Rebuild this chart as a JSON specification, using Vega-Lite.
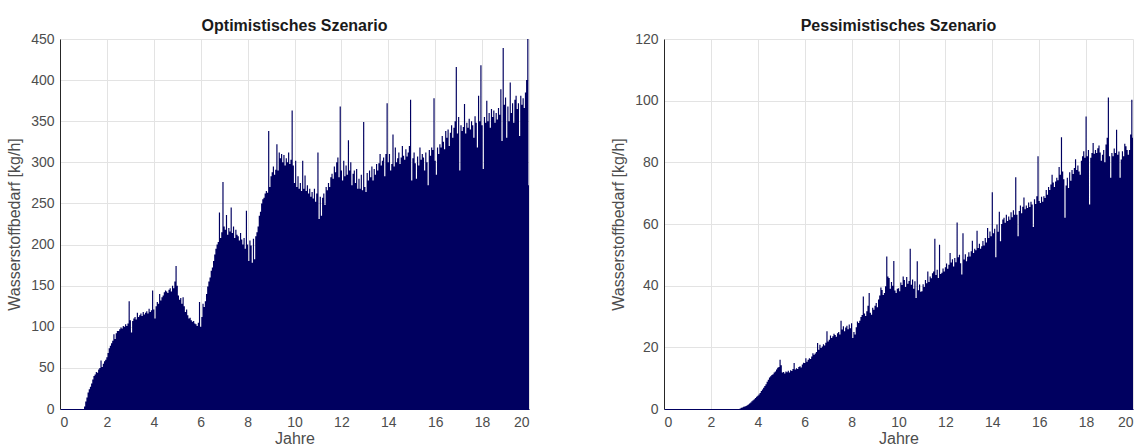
{
  "$schema": "https://vega.github.io/schema/vega-lite/v6.json",
  "background": "white",
  "padding": {"left": 6, "top": 18, "right": 5, "bottom": 0},
  "config": {
    "font": "Liberation Sans",
    "view": {"stroke": null},
    "axis": {
      "labelFont": "Liberation Sans", "labelFontSize": 14, "labelColor": "#4d4d4d",
      "titleFont": "Liberation Sans", "titleFontSize": 16, "titleFontWeight": "normal", "titleColor": "#4d4d4d",
      "gridColor": "#e3e3e3", "gridWidth": 1, "domainColor": "#262626", "tickSize": 0, "labelPadding": 6, "titlePadding": 8
    },
    "axisX": {"domainColor": "#000060", "titlePadding": 1},
    "title": {"font": "Liberation Sans", "fontSize": 16, "fontWeight": "bold", "color": "#1a1a1a", "offset": -2},
    "concat": {"spacing": 80}
  },
  "datasets": {
    "opt": [
      {"x":0,"y":0},{"x":1.00,"y":0},{"x":1.05,"y":3},{"x":1.10,"y":9},{"x":1.15,"y":14},{"x":1.20,"y":20},{"x":1.25,"y":24},{"x":1.30,"y":27},{"x":1.35,"y":31},{"x":1.40,"y":36},{"x":1.45,"y":40},{"x":1.50,"y":42},{"x":1.55,"y":45},{"x":1.60,"y":44},{"x":1.65,"y":48},{"x":1.70,"y":50},{"x":1.75,"y":59},{"x":1.80,"y":51},{"x":1.85,"y":55},{"x":1.90,"y":58},{"x":1.95,"y":60},
      {"x":2.00,"y":63},{"x":2.05,"y":68},{"x":2.10,"y":74},{"x":2.15,"y":77},{"x":2.20,"y":80},{"x":2.25,"y":83},{"x":2.30,"y":91},{"x":2.35,"y":85},{"x":2.40,"y":92},{"x":2.45,"y":95},{"x":2.50,"y":95},{"x":2.55,"y":97},{"x":2.60,"y":99},{"x":2.65,"y":98},{"x":2.70,"y":101},{"x":2.75,"y":100},{"x":2.80,"y":103},{"x":2.85,"y":101},{"x":2.90,"y":104},{"x":2.95,"y":131},
      {"x":3.00,"y":108},{"x":3.05,"y":93},{"x":3.10,"y":107},{"x":3.15,"y":110},{"x":3.20,"y":112},{"x":3.25,"y":109},{"x":3.30,"y":117},{"x":3.35,"y":112},{"x":3.40,"y":114},{"x":3.45,"y":116},{"x":3.50,"y":113},{"x":3.55,"y":118},{"x":3.60,"y":115},{"x":3.65,"y":117},{"x":3.70,"y":119},{"x":3.75,"y":116},{"x":3.80,"y":122},{"x":3.85,"y":118},{"x":3.90,"y":120},{"x":3.95,"y":144},
      {"x":4.00,"y":121},{"x":4.05,"y":110},{"x":4.10,"y":125},{"x":4.15,"y":130},{"x":4.20,"y":128},{"x":4.25,"y":140},{"x":4.30,"y":132},{"x":4.35,"y":136},{"x":4.40,"y":138},{"x":4.45,"y":142},{"x":4.50,"y":144},{"x":4.55,"y":143},{"x":4.60,"y":141},{"x":4.65,"y":145},{"x":4.70,"y":147},{"x":4.75,"y":143},{"x":4.80,"y":150},{"x":4.85,"y":147},{"x":4.90,"y":155},{"x":4.95,"y":174},
      {"x":5.00,"y":150},{"x":5.05,"y":138},{"x":5.10,"y":133},{"x":5.15,"y":135},{"x":5.20,"y":128},{"x":5.25,"y":136},{"x":5.30,"y":125},{"x":5.35,"y":118},{"x":5.40,"y":121},{"x":5.45,"y":114},{"x":5.50,"y":110},{"x":5.55,"y":111},{"x":5.60,"y":108},{"x":5.65,"y":106},{"x":5.70,"y":107},{"x":5.75,"y":104},{"x":5.80,"y":103},{"x":5.85,"y":101},{"x":5.90,"y":105},{"x":5.95,"y":130},
      {"x":6.00,"y":100},{"x":6.05,"y":112},{"x":6.10,"y":128},{"x":6.15,"y":124},{"x":6.20,"y":131},{"x":6.25,"y":140},{"x":6.30,"y":149},{"x":6.35,"y":155},{"x":6.40,"y":160},{"x":6.45,"y":168},{"x":6.50,"y":172},{"x":6.55,"y":180},{"x":6.60,"y":188},{"x":6.65,"y":195},{"x":6.70,"y":200},{"x":6.75,"y":203},{"x":6.80,"y":239},{"x":6.85,"y":208},{"x":6.90,"y":215},{"x":6.95,"y":276},
      {"x":7.00,"y":222},{"x":7.05,"y":218},{"x":7.10,"y":236},{"x":7.15,"y":212},{"x":7.20,"y":220},{"x":7.25,"y":216},{"x":7.30,"y":245},{"x":7.35,"y":214},{"x":7.40,"y":222},{"x":7.45,"y":208},{"x":7.50,"y":218},{"x":7.55,"y":212},{"x":7.60,"y":210},{"x":7.65,"y":205},{"x":7.70,"y":214},{"x":7.75,"y":206},{"x":7.80,"y":200},{"x":7.85,"y":208},{"x":7.90,"y":195},{"x":7.95,"y":241},
      {"x":8.00,"y":200},{"x":8.05,"y":180},{"x":8.10,"y":205},{"x":8.15,"y":199},{"x":8.20,"y":178},{"x":8.25,"y":207},{"x":8.30,"y":182},{"x":8.35,"y":210},{"x":8.40,"y":215},{"x":8.45,"y":222},{"x":8.50,"y":235},{"x":8.55,"y":240},{"x":8.60,"y":250},{"x":8.65,"y":255},{"x":8.70,"y":257},{"x":8.75,"y":262},{"x":8.80,"y":265},{"x":8.85,"y":263},{"x":8.90,"y":338},{"x":8.95,"y":270},
      {"x":9.00,"y":283},{"x":9.05,"y":288},{"x":9.10,"y":295},{"x":9.15,"y":285},{"x":9.20,"y":291},{"x":9.25,"y":322},{"x":9.30,"y":290},{"x":9.35,"y":312},{"x":9.40,"y":305},{"x":9.45,"y":310},{"x":9.50,"y":300},{"x":9.55,"y":309},{"x":9.60,"y":296},{"x":9.65,"y":305},{"x":9.70,"y":300},{"x":9.75,"y":312},{"x":9.80,"y":298},{"x":9.85,"y":303},{"x":9.90,"y":363},{"x":9.95,"y":296},
      {"x":10.00,"y":275},{"x":10.05,"y":302},{"x":10.10,"y":270},{"x":10.15,"y":283},{"x":10.20,"y":268},{"x":10.25,"y":275},{"x":10.30,"y":265},{"x":10.35,"y":302},{"x":10.40,"y":268},{"x":10.45,"y":284},{"x":10.50,"y":265},{"x":10.55,"y":272},{"x":10.60,"y":262},{"x":10.65,"y":268},{"x":10.70,"y":258},{"x":10.75,"y":264},{"x":10.80,"y":256},{"x":10.85,"y":268},{"x":10.90,"y":252},{"x":10.95,"y":262},
      {"x":11.00,"y":312},{"x":11.05,"y":231},{"x":11.10,"y":258},{"x":11.15,"y":235},{"x":11.20,"y":257},{"x":11.25,"y":262},{"x":11.30,"y":248},{"x":11.35,"y":270},{"x":11.40,"y":266},{"x":11.45,"y":275},{"x":11.50,"y":270},{"x":11.55,"y":282},{"x":11.60,"y":286},{"x":11.65,"y":280},{"x":11.70,"y":295},{"x":11.75,"y":288},{"x":11.80,"y":300},{"x":11.85,"y":306},{"x":11.90,"y":282},{"x":11.95,"y":368},
      {"x":12.00,"y":290},{"x":12.05,"y":278},{"x":12.10,"y":302},{"x":12.15,"y":283},{"x":12.20,"y":296},{"x":12.25,"y":285},{"x":12.30,"y":327},{"x":12.35,"y":290},{"x":12.40,"y":300},{"x":12.45,"y":272},{"x":12.50,"y":286},{"x":12.55,"y":290},{"x":12.60,"y":275},{"x":12.65,"y":292},{"x":12.70,"y":268},{"x":12.75,"y":280},{"x":12.80,"y":268},{"x":12.85,"y":285},{"x":12.90,"y":266},{"x":12.95,"y":349},
      {"x":13.00,"y":270},{"x":13.05,"y":264},{"x":13.10,"y":287},{"x":13.15,"y":278},{"x":13.20,"y":290},{"x":13.25,"y":282},{"x":13.30,"y":295},{"x":13.35,"y":278},{"x":13.40,"y":292},{"x":13.45,"y":285},{"x":13.50,"y":298},{"x":13.55,"y":290},{"x":13.60,"y":299},{"x":13.65,"y":310},{"x":13.70,"y":296},{"x":13.75,"y":302},{"x":13.80,"y":306},{"x":13.85,"y":283},{"x":13.90,"y":310},{"x":13.95,"y":372},
      {"x":14.00,"y":300},{"x":14.05,"y":310},{"x":14.10,"y":290},{"x":14.15,"y":298},{"x":14.20,"y":334},{"x":14.25,"y":295},{"x":14.30,"y":318},{"x":14.35,"y":300},{"x":14.40,"y":305},{"x":14.45,"y":312},{"x":14.50,"y":298},{"x":14.55,"y":306},{"x":14.60,"y":320},{"x":14.65,"y":308},{"x":14.70,"y":303},{"x":14.75,"y":316},{"x":14.80,"y":307},{"x":14.85,"y":312},{"x":14.90,"y":320},{"x":14.95,"y":376},
      {"x":15.00,"y":278},{"x":15.05,"y":305},{"x":15.10,"y":312},{"x":15.15,"y":299},{"x":15.20,"y":280},{"x":15.25,"y":307},{"x":15.30,"y":296},{"x":15.35,"y":318},{"x":15.40,"y":303},{"x":15.45,"y":310},{"x":15.50,"y":306},{"x":15.55,"y":290},{"x":15.60,"y":312},{"x":15.65,"y":300},{"x":15.70,"y":272},{"x":15.75,"y":315},{"x":15.80,"y":308},{"x":15.85,"y":318},{"x":15.90,"y":315},{"x":15.95,"y":378},
      {"x":16.00,"y":302},{"x":16.05,"y":285},{"x":16.10,"y":318},{"x":16.15,"y":310},{"x":16.20,"y":322},{"x":16.25,"y":318},{"x":16.30,"y":332},{"x":16.35,"y":325},{"x":16.40,"y":316},{"x":16.45,"y":338},{"x":16.50,"y":330},{"x":16.55,"y":340},{"x":16.60,"y":320},{"x":16.65,"y":336},{"x":16.70,"y":345},{"x":16.75,"y":330},{"x":16.80,"y":342},{"x":16.85,"y":350},{"x":16.90,"y":416},{"x":16.95,"y":335},
      {"x":17.00,"y":355},{"x":17.05,"y":290},{"x":17.10,"y":345},{"x":17.15,"y":338},{"x":17.20,"y":343},{"x":17.25,"y":371},{"x":17.30,"y":335},{"x":17.35,"y":348},{"x":17.40,"y":342},{"x":17.45,"y":353},{"x":17.50,"y":340},{"x":17.55,"y":350},{"x":17.60,"y":345},{"x":17.65,"y":330},{"x":17.70,"y":356},{"x":17.75,"y":348},{"x":17.80,"y":318},{"x":17.85,"y":381},{"x":17.90,"y":350},{"x":17.95,"y":418},
      {"x":18.00,"y":345},{"x":18.05,"y":292},{"x":18.10,"y":355},{"x":18.15,"y":348},{"x":18.20,"y":375},{"x":18.25,"y":350},{"x":18.30,"y":360},{"x":18.35,"y":342},{"x":18.40,"y":365},{"x":18.45,"y":355},{"x":18.50,"y":363},{"x":18.55,"y":348},{"x":18.60,"y":360},{"x":18.65,"y":352},{"x":18.70,"y":366},{"x":18.75,"y":358},{"x":18.80,"y":389},{"x":18.85,"y":326},{"x":18.90,"y":439},{"x":18.95,"y":370},
      {"x":19.00,"y":379},{"x":19.05,"y":330},{"x":19.10,"y":368},{"x":19.15,"y":350},{"x":19.20,"y":397},{"x":19.25,"y":360},{"x":19.30,"y":372},{"x":19.35,"y":348},{"x":19.40,"y":376},{"x":19.45,"y":381},{"x":19.50,"y":365},{"x":19.55,"y":372},{"x":19.60,"y":332},{"x":19.65,"y":381},{"x":19.70,"y":370},{"x":19.75,"y":378},{"x":19.80,"y":366},{"x":19.85,"y":385},{"x":19.90,"y":400},{"x":19.95,"y":450},
      {"x":20.00,"y":272}
    ],
    "pes": [
      {"x":0,"y":0},{"x":3.00,"y":0},{"x":3.05,"y":0},{"x":3.10,"y":0},{"x":3.15,"y":0},{"x":3.20,"y":0},{"x":3.25,"y":0.2},{"x":3.30,"y":0.4},{"x":3.35,"y":0.5},{"x":3.40,"y":0.7},{"x":3.45,"y":0.8},{"x":3.50,"y":1.0},{"x":3.55,"y":1.2},{"x":3.60,"y":1.5},{"x":3.65,"y":1.8},{"x":3.70,"y":2.1},{"x":3.75,"y":2.5},{"x":3.80,"y":2.8},{"x":3.85,"y":3.2},{"x":3.90,"y":3.6},{"x":3.95,"y":4.0},
      {"x":4.00,"y":4.3},{"x":4.05,"y":4.7},{"x":4.10,"y":5.2},{"x":4.15,"y":5.8},{"x":4.20,"y":6.3},{"x":4.25,"y":6.9},{"x":4.30,"y":7.5},{"x":4.35,"y":8.0},{"x":4.40,"y":8.8},{"x":4.45,"y":9.5},{"x":4.50,"y":10.2},{"x":4.55,"y":10.6},{"x":4.60,"y":11.0},{"x":4.65,"y":11.3},{"x":4.70,"y":11.8},{"x":4.75,"y":12.2},{"x":4.80,"y":12.8},{"x":4.85,"y":13.4},{"x":4.90,"y":13.6},{"x":4.95,"y":16.0},
      {"x":5.00,"y":14.2},{"x":5.05,"y":11.8},{"x":5.10,"y":12.0},{"x":5.15,"y":11.5},{"x":5.20,"y":12.2},{"x":5.25,"y":11.9},{"x":5.30,"y":12.4},{"x":5.35,"y":11.8},{"x":5.40,"y":12.6},{"x":5.45,"y":12.3},{"x":5.50,"y":13.0},{"x":5.55,"y":14.9},{"x":5.60,"y":12.8},{"x":5.65,"y":13.2},{"x":5.70,"y":13.0},{"x":5.75,"y":13.6},{"x":5.80,"y":13.9},{"x":5.85,"y":13.5},{"x":5.90,"y":14.4},{"x":5.95,"y":15.0},
      {"x":6.00,"y":14.9},{"x":6.05,"y":16.5},{"x":6.10,"y":15.3},{"x":6.15,"y":16.0},{"x":6.20,"y":16.5},{"x":6.25,"y":16.2},{"x":6.30,"y":17.0},{"x":6.35,"y":18.1},{"x":6.40,"y":17.6},{"x":6.45,"y":18.0},{"x":6.50,"y":18.5},{"x":6.55,"y":21.4},{"x":6.60,"y":19.2},{"x":6.65,"y":20.8},{"x":6.70,"y":19.8},{"x":6.75,"y":20.3},{"x":6.80,"y":21.0},{"x":6.85,"y":20.6},{"x":6.90,"y":21.5},{"x":6.95,"y":25.2},
      {"x":7.00,"y":21.9},{"x":7.05,"y":22.5},{"x":7.10,"y":23.8},{"x":7.15,"y":23.0},{"x":7.20,"y":23.6},{"x":7.25,"y":24.4},{"x":7.30,"y":24.0},{"x":7.35,"y":23.4},{"x":7.40,"y":24.6},{"x":7.45,"y":25.0},{"x":7.50,"y":24.2},{"x":7.55,"y":28.6},{"x":7.60,"y":25.8},{"x":7.65,"y":26.8},{"x":7.70,"y":25.2},{"x":7.75,"y":26.4},{"x":7.80,"y":27.0},{"x":7.85,"y":25.9},{"x":7.90,"y":27.4},{"x":7.95,"y":26.2},
      {"x":8.00,"y":27.8},{"x":8.05,"y":23.0},{"x":8.10,"y":25.0},{"x":8.15,"y":24.2},{"x":8.20,"y":26.5},{"x":8.25,"y":28.4},{"x":8.30,"y":27.9},{"x":8.35,"y":28.6},{"x":8.40,"y":29.8},{"x":8.45,"y":30.5},{"x":8.50,"y":36.5},{"x":8.55,"y":31.0},{"x":8.60,"y":30.2},{"x":8.65,"y":31.7},{"x":8.70,"y":33.5},{"x":8.75,"y":37.6},{"x":8.80,"y":31.2},{"x":8.85,"y":30.6},{"x":8.90,"y":32.8},{"x":8.95,"y":32.2},
      {"x":9.00,"y":33.5},{"x":9.05,"y":34.4},{"x":9.10,"y":33.0},{"x":9.15,"y":35.5},{"x":9.20,"y":36.8},{"x":9.25,"y":39.4},{"x":9.30,"y":38.6},{"x":9.35,"y":37.0},{"x":9.40,"y":37.6},{"x":9.45,"y":39.8},{"x":9.50,"y":49.5},{"x":9.55,"y":43.0},{"x":9.60,"y":42.5},{"x":9.65,"y":39.0},{"x":9.70,"y":41.2},{"x":9.75,"y":40.0},{"x":9.80,"y":48.0},{"x":9.85,"y":38.4},{"x":9.90,"y":37.6},{"x":9.95,"y":39.0},
      {"x":10.00,"y":39.2},{"x":10.05,"y":38.2},{"x":10.10,"y":41.0},{"x":10.15,"y":40.2},{"x":10.20,"y":43.0},{"x":10.25,"y":41.8},{"x":10.30,"y":39.6},{"x":10.35,"y":42.8},{"x":10.40,"y":40.6},{"x":10.45,"y":41.5},{"x":10.50,"y":52.0},{"x":10.55,"y":40.3},{"x":10.60,"y":42.0},{"x":10.65,"y":39.0},{"x":10.70,"y":41.4},{"x":10.75,"y":36.0},{"x":10.80,"y":47.9},{"x":10.85,"y":38.5},{"x":10.90,"y":40.4},{"x":10.95,"y":38.0},
      {"x":11.00,"y":38.2},{"x":11.05,"y":40.5},{"x":11.10,"y":39.6},{"x":11.15,"y":41.8},{"x":11.20,"y":40.8},{"x":11.25,"y":44.6},{"x":11.30,"y":41.2},{"x":11.35,"y":43.0},{"x":11.40,"y":42.4},{"x":11.45,"y":44.0},{"x":11.50,"y":44.6},{"x":11.55,"y":55.2},{"x":11.60,"y":43.5},{"x":11.65,"y":45.2},{"x":11.70,"y":42.5},{"x":11.75,"y":53.3},{"x":11.80,"y":43.8},{"x":11.85,"y":44.2},{"x":11.90,"y":45.6},{"x":11.95,"y":44.6},
      {"x":12.00,"y":46.0},{"x":12.05,"y":47.2},{"x":12.10,"y":45.5},{"x":12.15,"y":46.8},{"x":12.20,"y":50.6},{"x":12.25,"y":47.5},{"x":12.30,"y":48.6},{"x":12.35,"y":46.2},{"x":12.40,"y":49.0},{"x":12.45,"y":47.6},{"x":12.50,"y":60.5},{"x":12.55,"y":49.2},{"x":12.60,"y":50.0},{"x":12.65,"y":47.3},{"x":12.70,"y":43.6},{"x":12.75,"y":57.0},{"x":12.80,"y":48.5},{"x":12.85,"y":50.2},{"x":12.90,"y":47.9},{"x":12.95,"y":49.4},
      {"x":13.00,"y":50.8},{"x":13.05,"y":49.5},{"x":13.10,"y":51.2},{"x":13.15,"y":54.6},{"x":13.20,"y":50.6},{"x":13.25,"y":52.0},{"x":13.30,"y":51.5},{"x":13.35,"y":57.8},{"x":13.40,"y":52.2},{"x":13.45,"y":53.6},{"x":13.50,"y":52.0},{"x":13.55,"y":52.8},{"x":13.60,"y":54.5},{"x":13.65,"y":53.0},{"x":13.70,"y":55.5},{"x":13.75,"y":54.0},{"x":13.80,"y":58.7},{"x":13.85,"y":55.5},{"x":13.90,"y":57.6},{"x":13.95,"y":56.0},
      {"x":14.00,"y":70.3},{"x":14.05,"y":57.0},{"x":14.10,"y":58.5},{"x":14.15,"y":49.2},{"x":14.20,"y":59.8},{"x":14.25,"y":57.5},{"x":14.30,"y":64.0},{"x":14.35,"y":54.4},{"x":14.40,"y":60.0},{"x":14.45,"y":61.5},{"x":14.50,"y":62.0},{"x":14.55,"y":60.4},{"x":14.60,"y":63.0},{"x":14.65,"y":61.0},{"x":14.70,"y":62.4},{"x":14.75,"y":61.4},{"x":14.80,"y":63.8},{"x":14.85,"y":62.2},{"x":14.90,"y":64.5},{"x":14.95,"y":63.0},
      {"x":15.00,"y":75.2},{"x":15.05,"y":63.0},{"x":15.10,"y":56.0},{"x":15.15,"y":64.2},{"x":15.20,"y":66.0},{"x":15.25,"y":63.5},{"x":15.30,"y":65.6},{"x":15.35,"y":68.6},{"x":15.40,"y":64.8},{"x":15.45,"y":66.0},{"x":15.50,"y":65.2},{"x":15.55,"y":67.0},{"x":15.60,"y":65.5},{"x":15.65,"y":67.2},{"x":15.70,"y":66.3},{"x":15.75,"y":59.0},{"x":15.80,"y":68.0},{"x":15.85,"y":66.5},{"x":15.90,"y":69.0},{"x":15.95,"y":82.0},
      {"x":16.00,"y":67.5},{"x":16.05,"y":66.8},{"x":16.10,"y":68.8},{"x":16.15,"y":67.2},{"x":16.20,"y":69.0},{"x":16.25,"y":68.4},{"x":16.30,"y":71.0},{"x":16.35,"y":69.5},{"x":16.40,"y":72.0},{"x":16.45,"y":71.0},{"x":16.50,"y":72.8},{"x":16.55,"y":76.0},{"x":16.60,"y":73.5},{"x":16.65,"y":72.0},{"x":16.70,"y":73.8},{"x":16.75,"y":75.0},{"x":16.80,"y":74.2},{"x":16.85,"y":78.5},{"x":16.90,"y":76.0},{"x":16.95,"y":88.1},
      {"x":17.00,"y":77.0},{"x":17.05,"y":74.5},{"x":17.10,"y":62.0},{"x":17.15,"y":72.5},{"x":17.20,"y":75.0},{"x":17.25,"y":71.7},{"x":17.30,"y":76.8},{"x":17.35,"y":74.0},{"x":17.40,"y":77.5},{"x":17.45,"y":76.2},{"x":17.50,"y":78.2},{"x":17.55,"y":81.0},{"x":17.60,"y":77.5},{"x":17.65,"y":79.0},{"x":17.70,"y":77.0},{"x":17.75,"y":76.0},{"x":17.80,"y":80.5},{"x":17.85,"y":82.0},{"x":17.90,"y":83.6},{"x":17.95,"y":81.5},
      {"x":18.00,"y":94.9},{"x":18.05,"y":82.0},{"x":18.10,"y":84.0},{"x":18.15,"y":66.3},{"x":18.20,"y":81.5},{"x":18.25,"y":83.0},{"x":18.30,"y":86.3},{"x":18.35,"y":82.8},{"x":18.40,"y":84.0},{"x":18.45,"y":83.0},{"x":18.50,"y":84.6},{"x":18.55,"y":85.5},{"x":18.60,"y":83.2},{"x":18.65,"y":80.5},{"x":18.70,"y":82.5},{"x":18.75,"y":84.0},{"x":18.80,"y":80.0},{"x":18.85,"y":85.8},{"x":18.90,"y":88.0},{"x":18.95,"y":101.0},
      {"x":19.00,"y":82.0},{"x":19.05,"y":75.0},{"x":19.10,"y":83.0},{"x":19.15,"y":82.0},{"x":19.20,"y":84.5},{"x":19.25,"y":83.0},{"x":19.30,"y":90.6},{"x":19.35,"y":82.5},{"x":19.40,"y":83.5},{"x":19.45,"y":75.0},{"x":19.50,"y":80.9},{"x":19.55,"y":83.6},{"x":19.60,"y":82.0},{"x":19.65,"y":86.0},{"x":19.70,"y":85.2},{"x":19.75,"y":84.0},{"x":19.80,"y":82.5},{"x":19.85,"y":84.0},{"x":19.90,"y":89.0},{"x":19.95,"y":100.3},
      {"x":20.00,"y":88.0}
    ]
  },
  "hconcat": [
    {
      "width": 469, "height": 370,
      "title": "Optimistisches Szenario",
      "data": {"name": "opt"},
      "mark": {"type": "area", "interpolate": "step", "color": "#000060", "clip": true},
      "encoding": {
        "x": {"field": "x", "type": "quantitative", "scale": {"domain": [0, 20], "nice": false},
              "axis": {"title": "Jahre", "values": [0, 2, 4, 6, 8, 10, 12, 14, 16, 18, 20]}},
        "y": {"field": "y", "type": "quantitative", "scale": {"domain": [0, 450], "nice": false},
              "axis": {"title": "Wasserstoffbedarf [kg/h]", "values": [0, 50, 100, 150, 200, 250, 300, 350, 400, 450]}}
      }
    },
    {
      "width": 469, "height": 370,
      "title": "Pessimistisches Szenario",
      "data": {"name": "pes"},
      "mark": {"type": "area", "interpolate": "step", "color": "#000060", "clip": true},
      "encoding": {
        "x": {"field": "x", "type": "quantitative", "scale": {"domain": [0, 20], "nice": false},
              "axis": {"title": "Jahre", "values": [0, 2, 4, 6, 8, 10, 12, 14, 16, 18, 20]}},
        "y": {"field": "y", "type": "quantitative", "scale": {"domain": [0, 120], "nice": false},
              "axis": {"title": "Wasserstoffbedarf [kg/h]", "values": [0, 20, 40, 60, 80, 100, 120]}}
      }
    }
  ]
}
